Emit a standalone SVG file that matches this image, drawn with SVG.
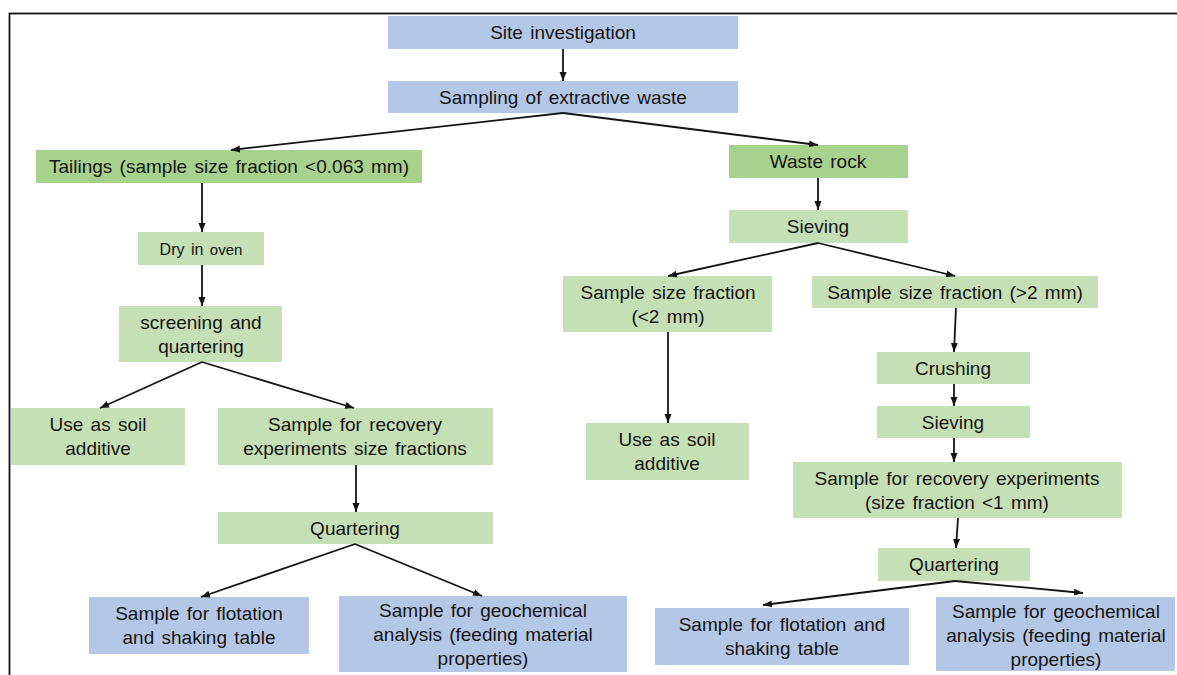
<svg xmlns="http://www.w3.org/2000/svg" width="1177" height="675" viewBox="0 0 1177 675">
<defs>
<style>
.blue{fill:#b4c7e7}
.dg{fill:#a9d18e}
.lg{fill:#c5e0b4}
text{font-family:"Liberation Sans",Arial,sans-serif;font-size:19px;fill:#141414;text-anchor:middle;word-spacing:2px}
.c line{stroke:#141414;stroke-width:1.8;fill:none;marker-end:url(#ah)}
</style>
<marker id="ah" markerUnits="userSpaceOnUse" markerWidth="10" markerHeight="10" viewBox="0 0 10 10" refX="9" refY="5" orient="auto">
<path d="M0,1.5 L9,5 L0,8.5 Z" fill="#141414"/>
</marker>
</defs>
<rect x="0" y="0" width="1177" height="675" fill="#ffffff"/>
<rect x="9.5" y="13.5" width="1200" height="700" fill="none" stroke="#141414" stroke-width="1.8"/>

<g id="n-site"><rect class="blue" x="388" y="16" width="350" height="33"/><text x="563" y="39">Site investigation</text></g>
<g id="n-sampling"><rect class="blue" x="388" y="81" width="350" height="32"/><text x="563" y="104">Sampling of extractive waste</text></g>
<g id="n-tailings"><rect class="dg" x="36" y="150" width="386" height="33"/><text x="229" y="173">Tailings (sample size fraction &lt;0.063 mm)</text></g>
<g id="n-wasterock"><rect class="dg" x="729" y="145" width="179" height="33"/><text x="818" y="168">Waste rock</text></g>
<g id="n-dry"><rect class="lg" x="138" y="232" width="126" height="33"/><text x="201" y="255" style="font-size:16px">Dry in <tspan style="font-size:15px">oven</tspan></text></g>
<g id="n-screening"><rect class="lg" x="119" y="306" width="163" height="56"/><text x="201" y="329">screening and</text><text x="201" y="353">quartering</text></g>
<g id="n-soil-left"><rect class="lg" x="11" y="408" width="174" height="57"/><text x="98" y="431">Use as soil</text><text x="98" y="455">additive</text></g>
<g id="n-recovery-left"><rect class="lg" x="218" y="408" width="275" height="57"/><text x="355" y="431">Sample for recovery</text><text x="355" y="455">experiments size fractions</text></g>
<g id="n-quarter-left"><rect class="lg" x="218" y="512" width="275" height="32"/><text x="355" y="535">Quartering</text></g>
<g id="n-flot-left"><rect class="blue" x="89" y="597" width="220" height="57"/><text x="199" y="620">Sample for flotation</text><text x="199" y="644">and shaking table</text></g>
<g id="n-geo-left"><rect class="blue" x="339" y="596" width="288" height="76"/><text x="483" y="617">Sample for geochemical</text><text x="483" y="641">analysis (feeding material</text><text x="483" y="665">properties)</text></g>
<g id="n-sieving"><rect class="lg" x="729" y="210" width="179" height="33"/><text x="818" y="233">Sieving</text></g>
<g id="n-lt2"><rect class="lg" x="563" y="276" width="209" height="56"/><text x="668" y="299">Sample size fraction</text><text x="668" y="323">(&lt;2 mm)</text></g>
<g id="n-gt2"><rect class="lg" x="812" y="276" width="286" height="32"/><text x="955" y="299">Sample size fraction (&gt;2 mm)</text></g>
<g id="n-soil-right"><rect class="lg" x="586" y="423" width="163" height="57"/><text x="667" y="446">Use as soil</text><text x="667" y="470">additive</text></g>
<g id="n-crushing"><rect class="lg" x="877" y="352" width="153" height="32"/><text x="953" y="375">Crushing</text></g>
<g id="n-sieving2"><rect class="lg" x="877" y="406" width="153" height="32"/><text x="953" y="429">Sieving</text></g>
<g id="n-recovery-right"><rect class="lg" x="793" y="462" width="329" height="56"/><text x="957" y="485">Sample for recovery experiments</text><text x="957" y="509">(size fraction &lt;1 mm)</text></g>
<g id="n-quarter-right"><rect class="lg" x="878" y="548" width="152" height="33"/><text x="954" y="571">Quartering</text></g>
<g id="n-flot-right"><rect class="blue" x="655" y="608" width="254" height="57"/><text x="782" y="631">Sample for flotation and</text><text x="782" y="655">shaking table</text></g>
<g id="n-geo-right"><rect class="blue" x="936" y="597" width="239" height="74"/><text x="1056" y="618">Sample for geochemical</text><text x="1056" y="642">analysis (feeding material</text><text x="1056" y="666">properties)</text></g>

<g id="connectors" class="c">
<line x1="563" y1="49" x2="563" y2="81"/>
<line x1="563" y1="113" x2="231" y2="150"/>
<line x1="563" y1="113" x2="818" y2="145"/>
<line x1="202" y1="183" x2="202" y2="232"/>
<line x1="202" y1="265" x2="202" y2="306"/>
<line x1="202" y1="362" x2="100" y2="408"/>
<line x1="202" y1="362" x2="354" y2="408"/>
<line x1="356" y1="465" x2="356" y2="512"/>
<line x1="355" y1="544" x2="201" y2="597"/>
<line x1="355" y1="544" x2="482" y2="596"/>
<line x1="818" y1="178" x2="818" y2="210"/>
<line x1="818" y1="243" x2="668" y2="276"/>
<line x1="818" y1="243" x2="955" y2="276"/>
<line x1="668" y1="332" x2="668" y2="423"/>
<line x1="956" y1="308" x2="954" y2="352"/>
<line x1="954" y1="384" x2="954" y2="406"/>
<line x1="954" y1="438" x2="954" y2="462"/>
<line x1="958" y1="518" x2="956" y2="548"/>
<line x1="955" y1="581" x2="763" y2="605"/>
<line x1="955" y1="581" x2="1083" y2="593"/>
</g>
</svg>
